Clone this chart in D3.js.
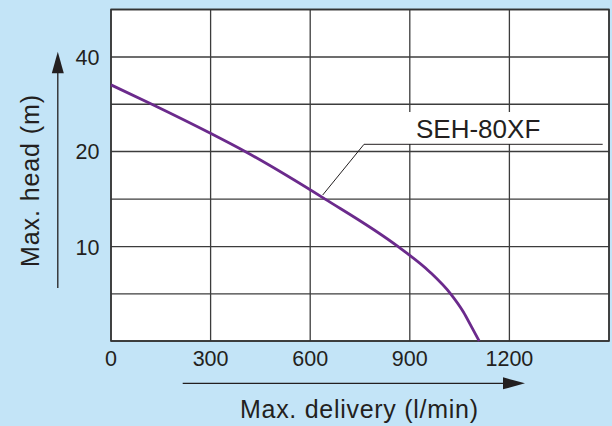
<!DOCTYPE html>
<html>
<head>
<meta charset="utf-8">
<script src="https://cdn.jsdelivr.net/npm/d3@7"></script>
<style>
  html, body { margin: 0; padding: 0; }
  body { width: 612px; height: 426px; overflow: hidden; }
  text { font-family: "Liberation Sans", Arial, sans-serif; fill: #231f20; }
</style>
</head>
<body>
<div id="vis"></div>
<script>
// datos
const caudal = [0, 123, 301, 404, 645, 865, 961, 1023, 1061, 1086, 1109];
const altura = [34.1, 30, 23.8, 20, 15, 10, 7.3, 5, 3.1, 1.5, 0];

const ticksX = [0, 300, 600, 900, 1200];
const gridX = [0, 300, 600, 900, 1200, 1500];
const ticksY = [10, 20, 40];
const gridY = [0, 5, 10, 15, 20, 30, 40, 50];

const serie = "SEH-80XF";
const tituloX = "Max. delivery (l/min)";
const tituloY = "Max. head (m)";

const WIDTH = 612;
const HEIGHT = 426;

const SVG = d3.select("#vis").append("svg")
    .attr("width", WIDTH)
    .attr("height", HEIGHT);

// fondo celeste
SVG.append("rect")
    .attr("width", WIDTH).attr("height", HEIGHT)
    .attr("fill", "#c3e4f7");

// escalas (el eje Y del original no es uniforme)
const x = d3.scaleLinear().domain([0, 1500]).range([111, 609]);
const y = d3.scaleLinear().domain([0, 10, 20, 40, 50]).range([341, 246.7, 151.5, 57, 9.5]);

// area del grafico
SVG.append("rect")
    .attr("x", x(0)).attr("y", y(50))
    .attr("width", x(1500) - x(0))
    .attr("height", y(0) - y(50))
    .attr("fill", "white");

// grilla
SVG.selectAll("line.gx")
    .data(gridX)
    .enter()
    .append("line")
    .attr("class", "gx")
    .attr("x1", d => x(d)).attr("x2", d => x(d))
    .attr("y1", y(0)).attr("y2", y(50))
    .attr("stroke", "#3c3c3c")
    .attr("stroke-width", 1.3);

SVG.selectAll("line.gy")
    .data(gridY)
    .enter()
    .append("line")
    .attr("class", "gy")
    .attr("x1", x(0)).attr("x2", x(1500))
    .attr("y1", d => y(d)).attr("y2", d => y(d))
    .attr("stroke", "#3c3c3c")
    .attr("stroke-width", 1.3);

// caja blanca detras de la etiqueta
SVG.append("rect")
    .attr("x", 366).attr("y", 112)
    .attr("width", 237).attr("height", 32)
    .attr("fill", "white");

// borde
SVG.append("rect")
    .attr("x", x(0)).attr("y", y(50))
    .attr("width", x(1500) - x(0))
    .attr("height", y(0) - y(50))
    .attr("fill", "none")
    .attr("stroke", "#333")
    .attr("stroke-width", 1.6);

// curva
const linea = d3.line()
    .x(d => x(d[0]))
    .y(d => y(d[1]))
    .curve(d3.curveMonotoneX);

SVG.append("path")
    .datum(caudal.map((c, i) => [c, altura[i]]))
    .attr("d", linea)
    .attr("fill", "none")
    .attr("stroke", "#6b2a8c")
    .attr("stroke-width", 2.8);

// linea guia y etiqueta
SVG.append("polyline")
    .attr("points", "322.7,195 364,144.3 602.7,144.3")
    .attr("fill", "none")
    .attr("stroke", "#231f20")
    .attr("stroke-width", 1);

SVG.append("text")
    .attr("x", 416)
    .attr("y", 138)
    .style("font-size", "26px")
    .text(serie);

// etiquetas de ticks
SVG.selectAll("text.tx")
    .data(ticksX)
    .enter()
    .append("text")
    .attr("class", "tx")
    .attr("x", d => x(d))
    .attr("y", 366)
    .attr("text-anchor", "middle")
    .style("font-size", "21.5px")
    .text(d => d);

SVG.selectAll("text.ty")
    .data(ticksY)
    .enter()
    .append("text")
    .attr("class", "ty")
    .attr("x", 99.5)
    .attr("y", d => y(d) + 7.8)
    .attr("text-anchor", "end")
    .style("font-size", "21.5px")
    .text(d => d);

// flechas de los ejes
SVG.append("line")
    .attr("x1", 182.7).attr("x2", 505)
    .attr("y1", 383.3).attr("y2", 383.3)
    .attr("stroke", "#231f20").attr("stroke-width", 1.3);
SVG.append("polygon")
    .attr("points", "525,383.3 503,377.3 503,389.3")
    .attr("fill", "#231f20");

SVG.append("line")
    .attr("x1", 57.8).attr("x2", 57.8)
    .attr("y1", 288).attr("y2", 72)
    .attr("stroke", "#231f20").attr("stroke-width", 1.3);
SVG.append("polygon")
    .attr("points", "57.8,51.7 51.8,73.3 63.8,73.3")
    .attr("fill", "#231f20");

// titulos de ejes
SVG.append("text")
    .attr("x", 359)
    .attr("y", 418)
    .attr("text-anchor", "middle")
    .style("font-size", "25px")
    .attr("textLength", 238)
    .attr("lengthAdjust", "spacing")
    .text(tituloX);

SVG.append("text")
    .attr("transform", "translate(38.5,181) rotate(-90)")
    .attr("text-anchor", "middle")
    .style("font-size", "25px")
    .attr("textLength", 172)
    .attr("lengthAdjust", "spacing")
    .text(tituloY);
</script>
</body>
</html>
